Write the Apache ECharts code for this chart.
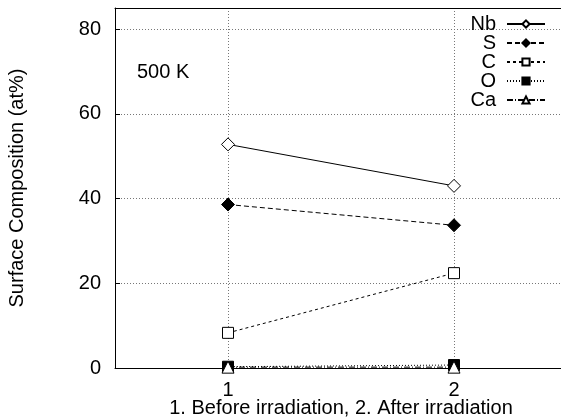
<!DOCTYPE html>
<html>
<head>
<meta charset="utf-8">
<script src="https://cdn.jsdelivr.net/npm/echarts@6/dist/echarts.min.js"></script>
<style>
html,body{margin:0;padding:0;background:#fff}
#chart{width:561px;height:420px}
</style>
</head>
<body>
<div id="chart"></div>
<script>
// 数据: x = 1 (before), 2 (after)
const stages = [1, 2]
const nb = [52.8, 43.0]
const s = [38.6, 33.7]
const c = [8.3, 22.4]
const o = [0.3, 0.7]
const ca = [0.2, 0.2]
const yTicks = [0, 20, 40, 60, 80]

const font = 'Liberation Sans, Arial, sans-serif'

function pairs(vals){
    let out = []
    for(let i=0;i<stages.length;i++)
        out.push([stages[i], vals[i]])
    return out
}

function mkSeries(name, vals, symbol, filled, lineType, size){
    return {
        name: name,
        type: 'line',
        data: pairs(vals),
        symbol: symbol,
        symbolSize: size,
        clip: false,
        showAllSymbol: true,
        lineStyle: {color: '#000', width: 1, type: lineType},
        itemStyle: {
            color: filled ? '#000' : '#fff',
            borderColor: '#000',
            borderWidth: 1
        },
        emphasis: {disabled: true},
        animation: false
    }
}

let option = {
    backgroundColor: '#fff',
    grid: {
        left: 115, top: 8, width: 452, height: 360,
        outerBoundsMode: 'none',
        containLabel: false,
        show: false
    },
    legend: {
        orient: 'vertical',
        right: 10,
        top: 9,
        align: 'right',
        itemWidth: 38,
        itemHeight: 9,
        itemGap: -1,
        textStyle: {fontFamily: font, fontSize: 20, lineHeight: 18, color: '#000', padding: [0, 6, 0, 0]},
        data: ['Nb', 'S', 'C', 'O', 'Ca']
    },
    graphic: [{
        type: 'text',
        left: 137, top: 62,
        style: {text: '500 K', fontFamily: font, fontSize: 20, fill: '#000'}
    }],
    xAxis: [{
        type: 'value',
        min: 0.5, max: 2.5,
        name: '1. Before irradiation, 2. After irradiation',
        nameLocation: 'middle',
        nameGap: 30,
        nameMoveOverlap: false,
        nameTextStyle: {fontFamily: font, fontSize: 20, color: '#000'},
        axisLine: {lineStyle: {color: '#000'}},
        axisTick: {show: true, inside: true, length: 5, customValues: stages, lineStyle: {color: '#000'}},
        axisLabel: {customValues: stages, margin: 12, fontFamily: font, fontSize: 20, color: '#000'},
        splitLine: {show: true, lineStyle: {color: '#777', type: [1, 2], width: 1}}
    }, {
        // 上边框
        type: 'value',
        position: 'top',
        min: 0.5, max: 2.5,
        axisLine: {show: true, onZero: false, lineStyle: {color: '#000'}},
        axisTick: {show: false},
        axisLabel: {show: false},
        splitLine: {show: false}
    }],
    yAxis: {
        type: 'value',
        min: 0, max: 85,
        name: 'Surface Composition (at%)',
        nameLocation: 'middle',
        nameGap: 88,
        nameMoveOverlap: false,
        nameTextStyle: {fontFamily: font, fontSize: 20, color: '#000'},
        axisLine: {show: true, lineStyle: {color: '#000'}},
        axisTick: {show: true, inside: true, length: 5, customValues: yTicks, lineStyle: {color: '#000'}},
        axisLabel: {customValues: yTicks, margin: 14, fontFamily: font, fontSize: 20, color: '#000'},
        splitLine: {show: true, lineStyle: {color: '#777', type: [1, 2], width: 1}}
    },
    series: [
        mkSeries('Nb', nb, 'diamond', false, 'solid', 13),
        mkSeries('S', s, 'diamond', true, [5, 3], 13),
        mkSeries('C', c, 'rect', false, [3, 3], 11),
        mkSeries('O', o, 'rect', true, [1, 2], 11),
        mkSeries('Ca', ca, 'triangle', false, [6, 2, 1, 2], 12)
    ]
}

let chartDom = echarts.init(document.querySelector('#chart'))
chartDom.setOption(option)
</script>
</body>
</html>
